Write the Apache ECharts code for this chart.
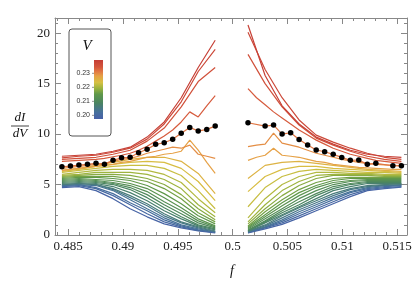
<!DOCTYPE html>
<html>
<head>
<meta charset="utf-8">
<script src="https://cdn.jsdelivr.net/npm/echarts@6/dist/echarts.min.js"></script>
<style>
  html, body { margin: 0; padding: 0; background: #fff; }
  #chart { width: 415px; height: 284px; }
</style>
</head>
<body>
<div id="chart"></div>
<script>
// f grid (left and right of the gap)
const fLeft = [0.48443, 0.48521, 0.48598, 0.48676, 0.48754, 0.48831, 0.48909, 0.48987, 0.49065, 0.49142,
               0.49220, 0.49298, 0.49376, 0.49453, 0.49531, 0.49609, 0.49686, 0.49764, 0.49841];
const fRight = [0.50140, 0.50218, 0.50296, 0.50373, 0.50451, 0.50529, 0.50606, 0.50684, 0.50762, 0.50839,
                0.50917, 0.50995, 0.51073, 0.51150, 0.51228, 0.51306, 0.51384, 0.51461, 0.51539];

// V of every curve (colour scale)
const vBlue = [0.1985, 0.2, 0.2015, 0.203, 0.2045, 0.206];
const vGreen = [0.2075, 0.209, 0.2105, 0.212, 0.2135, 0.215, 0.2165];
const vYellow = [0.218, 0.2195, 0.221, 0.2225, 0.224, 0.2255];
const vOrange = [0.228, 0.2295];
const vDots = 0.2315;
const vRed = [0.234, 0.2355, 0.237, 0.2385];

// dI/dV curves: 10 values = every other f point, 19 values = every f point
const blueLeft = [
  [4.7, 4.8, 4.4, 3.6, 2.6, 1.8, 1.1, 0.7, 0.4, 0.2],
  [4.8, 4.9, 4.6, 3.9, 3.0, 2.1, 1.3, 0.8, 0.45, 0.25],
  [4.9, 5.0, 4.7, 4.1, 3.2, 2.4, 1.5, 0.9, 0.5, 0.3],
  [4.9, 5.0, 4.9, 4.4, 3.5, 2.6, 1.7, 1.0, 0.6, 0.3],
  [5.0, 5.1, 5.0, 4.5, 3.7, 2.9, 1.9, 1.2, 0.7, 0.35],
  [5.0, 5.1, 5.0, 4.6, 3.9, 3.1, 2.1, 1.3, 0.8, 0.4]
];
const blueRight = [
  [0.2, 0.6, 1.05, 1.7, 2.4, 3.1, 3.8, 4.4, 4.6, 4.75],
  [0.24, 0.7, 1.2, 1.9, 2.6, 3.3, 4.0, 4.5, 4.7, 4.8],
  [0.27, 0.75, 1.35, 2.1, 2.8, 3.5, 4.2, 4.6, 4.8, 4.9],
  [0.3, 0.8, 1.5, 2.3, 3.0, 3.7, 4.3, 4.7, 4.9, 4.95],
  [0.34, 0.9, 1.7, 2.5, 3.2, 3.9, 4.5, 4.8, 4.95, 5.0],
  [0.38, 1.0, 1.9, 2.7, 3.4, 4.1, 4.6, 4.9, 5.0, 5.1]
];
const greenLeft = [
  [5.1, 5.2, 5.1, 4.8, 4.2, 3.4, 2.4, 1.6, 0.9, 0.5],
  [5.2, 5.3, 5.2, 5.0, 4.5, 3.7, 2.7, 1.8, 1.0, 0.6],
  [5.3, 5.4, 5.3, 5.1, 4.7, 4.0, 3.0, 2.1, 1.2, 0.7],
  [5.4, 5.5, 5.4, 5.2, 4.9, 4.3, 3.3, 2.4, 1.4, 0.8],
  [5.5, 5.6, 5.5, 5.4, 5.1, 4.6, 3.7, 2.7, 1.6, 0.9],
  [5.6, 5.7, 5.7, 5.6, 5.4, 4.9, 4.1, 3.1, 1.9, 1.1],
  [5.7, 5.8, 5.8, 5.8, 5.6, 5.3, 4.6, 3.6, 2.2, 1.3]
];
const greenRight = [
  [0.4, 1.2, 2.0, 2.8, 3.6, 4.4, 4.8, 5.1, 5.1, 5.1],
  [0.45, 1.3, 2.2, 3.0, 3.9, 4.6, 5.0, 5.2, 5.2, 5.2],
  [0.5, 1.4, 2.4, 3.3, 4.1, 4.8, 5.1, 5.3, 5.3, 5.3],
  [0.6, 1.6, 2.6, 3.6, 4.4, 5.0, 5.3, 5.4, 5.4, 5.4],
  [0.7, 1.8, 2.9, 3.9, 4.7, 5.2, 5.4, 5.5, 5.5, 5.5],
  [0.8, 2.0, 3.2, 4.2, 4.9, 5.4, 5.6, 5.6, 5.6, 5.6],
  [0.9, 2.3, 3.5, 4.5, 5.2, 5.6, 5.7, 5.7, 5.7, 5.7]
];
const yellowLeft = [
  [5.8, 5.9, 6.0, 6.0, 5.9, 5.6, 5.0, 4.0, 2.6, 1.5],
  [5.9, 6.0, 6.2, 6.2, 6.2, 6.0, 5.5, 4.6, 3.0, 1.8],
  [6.0, 6.2, 6.4, 6.5, 6.5, 6.4, 6.0, 5.2, 3.6, 2.2],
  [6.2, 6.4, 6.6, 6.8, 6.9, 6.9, 6.6, 5.9, 4.4, 2.6],
  [6.3, 6.5, 6.8, 7.0, 7.2, 7.3, 7.2, 6.6, 5.3, 3.4],
  [6.4, 6.6, 6.9, 7.2, 7.5, 7.7, 7.7, 7.3, 6.1, 4.1]
];
const yellowRight = [
  [1.1, 2.6, 3.9, 4.9, 5.6, 5.9, 5.9, 5.9, 5.8, 5.8],
  [1.3, 3.0, 4.4, 5.3, 5.9, 6.0, 6.0, 6.0, 5.9, 5.9],
  [1.7, 3.6, 5.0, 5.8, 6.2, 6.2, 6.1, 6.1, 6.0, 6.0],
  [2.8, 4.7, 5.8, 6.3, 6.5, 6.4, 6.3, 6.2, 6.2, 6.1],
  [4.3, 5.8, 6.5, 6.8, 6.8, 6.6, 6.5, 6.4, 6.3, 6.2],
  [5.6, 6.9, 7.2, 7.3, 7.1, 6.9, 6.7, 6.5, 6.4, 6.3]
];
const orangeLeft = [
  [6.4, 6.5, 6.6, 6.7, 6.8, 6.9, 7.0, 7.2, 7.3, 7.5, 7.7, 7.8, 8.0, 8.1, 8.3, 9.4, 8.4, 7.2, 6.1],
  [6.6, 6.7, 6.8, 6.9, 7.0, 7.1, 7.3, 7.5, 7.6, 7.8, 8.1, 8.3, 8.5, 8.7, 8.6, 8.9, 8.0, 7.8, 7.6]
];
const orangeRight = [
  [7.4, 7.7, 7.9, 8.6, 7.9, 7.8, 7.7, 7.5, 7.3, 7.2, 7.0, 6.9, 6.8, 6.7, 6.65, 6.6, 6.55, 6.5, 6.5],
  [8.75, 8.9, 9.0, 10.1, 9.1, 8.9, 8.7, 8.4, 8.1, 7.9, 7.7, 7.5, 7.35, 7.2, 7.1, 7.0, 6.95, 6.9, 6.85]
];
const redLeft = [
  [7.3, 7.35, 7.4, 7.45, 7.5, 7.6, 7.75, 7.9, 8.1, 8.4, 8.8, 9.3, 9.8, 10.4, 11.2, 12.2, 11.7, 12.8, 13.8],
  [7.5, 7.6, 7.7, 8.0, 8.4, 9.3, 10.6, 12.7, 15.2, 16.6],
  [7.65, 7.8, 7.9, 8.2, 8.6, 9.5, 11.0, 13.2, 16.2, 18.4],
  [7.8, 7.9, 8.0, 8.3, 8.7, 9.7, 11.2, 13.6, 16.6, 19.3]
];
const redRight = [
  [14.5, 13.6, 12.9, 12.2, 11.6, 11.0, 10.4, 9.9, 9.4, 9.0, 8.6, 8.3, 8.0, 7.8, 7.6, 7.4, 7.3, 7.2, 7.1],
  [17.9, 15.0, 12.7, 10.9, 9.6, 8.9, 8.3, 7.8, 7.5, 7.3],
  [20.1, 16.4, 13.6, 11.4, 9.9, 9.2, 8.6, 8.1, 7.7, 7.5],
  [20.8, 15.8, 12.8, 11.0, 9.7, 9.0, 8.4, 8.0, 7.8, 7.7]
];

// black dots
const dotLeft = [6.76, 6.83, 6.93, 7.0, 7.1, 7.0, 7.4, 7.65, 7.7, 8.15, 8.49, 8.98, 9.14, 9.48, 10.07, 10.66, 10.3, 10.46, 10.79];
const dotRightF = [0.50140, 0.50296, 0.50373, 0.50451, 0.50529, 0.50606, 0.50684, 0.50762, 0.50839,
                   0.50917, 0.50995, 0.51073, 0.51150, 0.51228, 0.51306, 0.51461, 0.51539];
const dotRight = [11.12, 10.79, 10.89, 10.0, 10.13, 9.47, 8.91, 8.42, 8.25, 7.99, 7.69, 7.4, 7.43, 7.0, 7.1, 6.86, 6.86];

// ticks
const xMajor = [0.485, 0.49, 0.495, 0.5, 0.505, 0.51, 0.515];
const yMajor = [0, 5, 10, 15, 20];
const barTicks = [0.20, 0.21, 0.22, 0.23];

const vMin = 0.1974, vMax = 0.2395;
const cmap = [
  [0, '#4760a8'], [0.12, '#47719c'], [0.27, '#4a8462'], [0.42, '#5f984a'],
  [0.52, '#9bb33f'], [0.62, '#d6c143'], [0.73, '#e6a046'], [0.8, '#e27a44'],
  [0.88, '#d4563c'], [1, '#c43c36']
];

function hex2rgb(h) {
  return [parseInt(h.slice(1, 3), 16), parseInt(h.slice(3, 5), 16), parseInt(h.slice(5, 7), 16)];
}
function colorOf(v) {
  let t = (v - vMin) / (vMax - vMin);
  t = Math.max(0, Math.min(1, t));
  for (let i = 1; i < cmap.length; i++) {
    if (t <= cmap[i][0]) {
      const a = cmap[i - 1], b = cmap[i];
      const k = (t - a[0]) / (b[0] - a[0]);
      const ca = hex2rgb(a[1]), cb = hex2rgb(b[1]);
      const c = ca.map((x, j) => Math.round(x + (cb[j] - x) * k));
      return 'rgb(' + c.join(',') + ')';
    }
  }
  return cmap[cmap.length - 1][1];
}

function pairs(grid, vals) {
  // 10 values -> every other grid point
  const g = vals.length === grid.length ? grid : grid.filter((_, i) => i % 2 === 0);
  return vals.map((v, i) => [g[i], v]);
}

const series = [];
function addCurves(vs, left, right) {
  vs.forEach((v, k) => {
    const col = colorOf(v);
    [pairs(fLeft, left[k]), pairs(fRight, right[k])].forEach(d => {
      series.push({
        type: 'line', data: d, showSymbol: false, symbol: 'none', silent: true,
        lineStyle: { color: col, width: 1.2 }, z: 2
      });
    });
  });
}
addCurves(vBlue, blueLeft, blueRight);
addCurves(vGreen, greenLeft, greenRight);
addCurves(vYellow, yellowLeft, yellowRight);
addCurves(vOrange, orangeLeft, orangeRight);

// line under the dots
const dotCol = colorOf(vDots);
const dotsL = dotLeft.map((v, i) => [fLeft[i], v]);
const dotsR = dotRight.map((v, i) => [dotRightF[i], v]);
[dotsL, dotsR].forEach(d => {
  series.push({
    type: 'line', data: d, showSymbol: false, symbol: 'none', silent: true,
    lineStyle: { color: dotCol, width: 1.2 }, z: 2
  });
});
addCurves(vRed, redLeft, redRight);
series.push({
  type: 'scatter', data: dotsL.concat(dotsR), symbolSize: 5.5, silent: true,
  itemStyle: { color: '#000', opacity: 1, borderWidth: 0 }, z: 5
});

// axes: major + minor ticks on all four sides
const xMin = 0.4838, xMax = 0.5159, yMin = 0, yMax = 21.5;
const xMinor = [];
for (let k = 484; k <= 515; k++) if (k % 5 !== 0) xMinor.push(k / 1000);
const yMinor = [];
for (let k = 1; k <= 21; k++) if (k % 5 !== 0) yMinor.push(k);

const frameCol = '#888';
const serif = 'Liberation Serif';
function axis(pos, min, max, ticks, len, withLabel, showLine, fmt) {
  return {
    type: 'value', position: pos, min: min, max: max, offset: 0,
    axisLine: { show: showLine, onZero: false, lineStyle: { color: frameCol, width: 1 } },
    axisTick: { show: true, inside: true, length: len, customValues: ticks, lineStyle: { color: frameCol, width: 1 } },
    axisLabel: withLabel ? {
      show: true, customValues: ticks, margin: 5, color: '#222',
      fontFamily: serif, fontSize: 13, formatter: fmt
    } : { show: false },
    splitLine: { show: false }
  };
}
const fmtX = v => String(parseFloat((+v).toFixed(3)));
const fmtY = v => String(Math.round(v));

// colour bar
const barX = 94, barY = 60, barW = 9, barH = 59;
const barY0 = v => barY + barH - (v - vMin) / (vMax - vMin) * barH;
const barStops = cmap.map(s => ({ offset: s[0], color: s[1] }));
const graphics = [
  { type: 'rect', shape: { x: 69, y: 29, width: 42, height: 107, r: 3 },
    style: { fill: '#fff', stroke: '#555', lineWidth: 1 }, z: 10 },
  { type: 'text', x: 87, y: 46, z: 11,
    style: { text: 'V', font: 'italic 15px "Liberation Serif"', fill: '#111', align: 'center', verticalAlign: 'middle' } },
  { type: 'rect', shape: { x: barX, y: barY, width: barW, height: barH }, z: 11,
    style: { fill: new echarts.graphic.LinearGradient(0, 1, 0, 0, barStops) } }
];
barTicks.forEach(v => {
  const y = barY0(v);
  graphics.push({ type: 'text', x: 90, y: y, z: 11,
    style: { text: v.toFixed(2), font: '7px "Liberation Sans"', fill: '#333', align: 'right', verticalAlign: 'middle' } });
  graphics.push({ type: 'line', shape: { x1: barX - 2, y1: y, x2: barX, y2: y }, z: 11,
    style: { stroke: '#777', lineWidth: 0.8 } });
});
// y title as a fraction, x title
graphics.push(
  { type: 'text', x: 20, y: 118, style: { text: 'dI', font: 'italic 13px "Liberation Serif"', fill: '#111', align: 'center', verticalAlign: 'middle' } },
  { type: 'line', shape: { x1: 11, y1: 126, x2: 29, y2: 126 }, style: { stroke: '#111', lineWidth: 0.8 } },
  { type: 'text', x: 20, y: 134, style: { text: 'dV', font: 'italic 13px "Liberation Serif"', fill: '#111', align: 'center', verticalAlign: 'middle' } },
  { type: 'text', x: 232, y: 271, style: { text: 'f', font: 'italic 14px "Liberation Serif"', fill: '#111', align: 'center', verticalAlign: 'middle' } }
);

const chart = echarts.init(document.getElementById('chart'));
chart.setOption({
  animation: false,
  backgroundColor: '#fff',
  grid: { left: 55, right: 8, top: 18, bottom: 49, containLabel: false },
  xAxis: [
    axis('bottom', xMin, xMax, xMajor, 6, true, true, fmtX),
    axis('bottom', xMin, xMax, xMinor, 3, false, false),
    axis('top', xMin, xMax, xMajor, 6, false, true),
    axis('top', xMin, xMax, xMinor, 3, false, false)
  ],
  yAxis: [
    axis('left', yMin, yMax, yMajor, 6, true, true, fmtY),
    axis('left', yMin, yMax, yMinor, 3, false, false),
    axis('right', yMin, yMax, yMajor, 6, false, true),
    axis('right', yMin, yMax, yMinor, 3, false, false)
  ],
  series: series,
  graphic: graphics
});
</script>
</body>
</html>
